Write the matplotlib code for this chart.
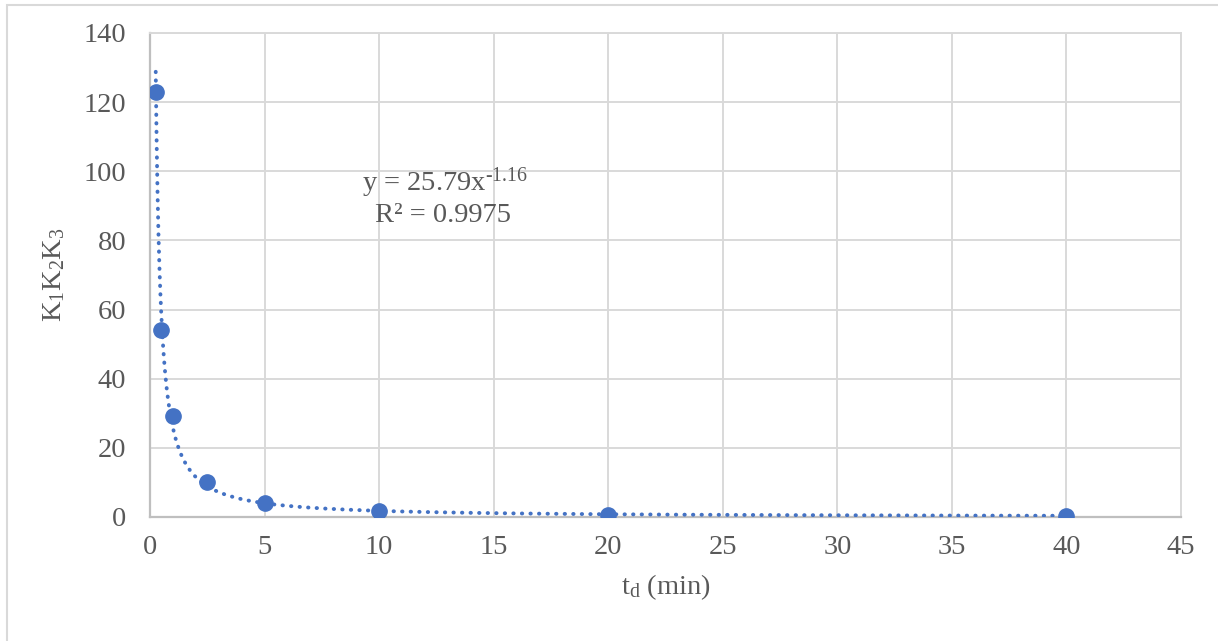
import matplotlib

matplotlib.use("Agg")
import numpy as np
import matplotlib.pyplot as plt
from matplotlib.patches import Rectangle

# data
td_min = [0.25, 0.5, 1.0, 2.5, 5.0, 10.0, 20.0, 40.0]
k123 = [123.0, 54.0, 29.2, 10.1, 4.0, 1.7, 0.7, 0.3]

# power trendline shown on the chart
TREND_A = 25.79
TREND_B = -1.16
TREND_R2 = 0.9975

x_ticks = [0, 5, 10, 15, 20, 25, 30, 35, 40, 45]
y_ticks = [0, 20, 40, 60, 80, 100, 120, 140]

BLUE = "#4472C4"
GRID = "#d9d9d9"
AXIS = "#bfbfbf"
TXT = "#595959"
FS = 20.5

plt.rcParams.update({
    "font.family": ["Liberation Serif", "DejaVu Serif"],
    "mathtext.fontset": "custom",
    "mathtext.rm": "Liberation Serif",
    "mathtext.it": "Liberation Serif:italic",
    "font.size": FS,
})

fig = plt.figure(figsize=(12.18, 6.41), dpi=100)
ax = fig.add_axes([150 / 1218, 1 - 517 / 641, (1181 - 150) / 1218, (517 - 33) / 641])

# outer chart-area border (only left/top visible in the crop)
fig.patches.append(Rectangle((7 / 1218, -0.2), 1.2, 0.2 + 1 - 4.5 / 641,
                             transform=fig.transFigure, fill=False,
                             edgecolor=GRID, linewidth=1.5, zorder=0))

ax.set_xlim(0, 45)
ax.set_ylim(0, 140)
ax.set_xticks(x_ticks)
ax.set_yticks(y_ticks)
ax.grid(True, color=GRID, linewidth=1.4)
ax.set_axisbelow(True)
for side in ("top", "right"):
    ax.spines[side].set_color(GRID)
    ax.spines[side].set_linewidth(1.4)
for side in ("left", "bottom"):
    ax.spines[side].set_color(AXIS)
    ax.spines[side].set_linewidth(1.6)
ax.tick_params(length=0, labelsize=FS, colors=TXT, pad=13)
ax.tick_params(axis="y", pad=17)

# trendline
xt = np.linspace(min(td_min), max(td_min), 2000)
ax.plot(xt, TREND_A * xt ** TREND_B, color=BLUE, linewidth=2.8,
        linestyle=(0, (0.1, 2.1)), dash_capstyle="round", zorder=3)

ax.plot(td_min, k123, "o", color=BLUE, markersize=11, zorder=4)

ax.text(12.9, 96.6, r"y = 25.79x$^{\text{-1.16}}$", ha="center", va="center",
        color=TXT, fontsize=FS)
ax.text(12.8, 87.2, "R² = %.4f" % TREND_R2, ha="center", va="center",
        color=TXT, fontsize=FS)

ax.set_xlabel(r"t$_\mathrm{d}$ (min)", color=TXT, fontsize=FS, labelpad=9)
ax.set_ylabel(r"K$_1$K$_2$K$_3$", color=TXT, fontsize=FS, labelpad=12)

fig.savefig("out.png", dpi=100)
